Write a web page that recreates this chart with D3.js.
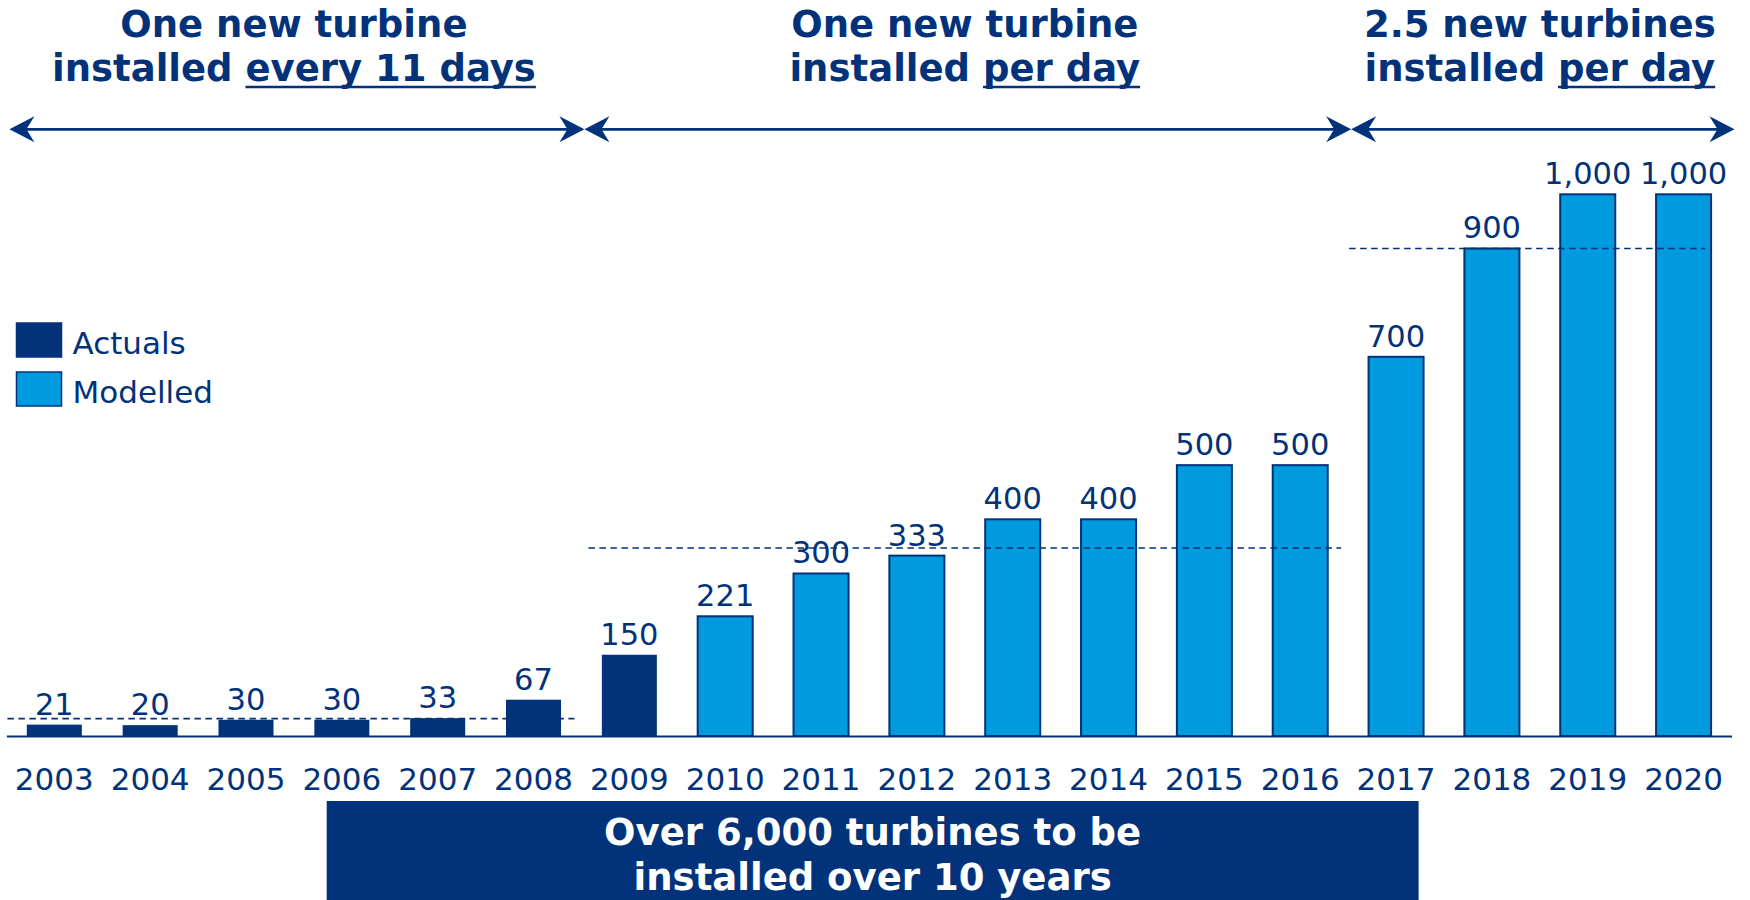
<!DOCTYPE html>
<html>
<head>
<meta charset="utf-8">
<script src="https://cdn.jsdelivr.net/npm/d3@7"></script>
<style>
  html, body { margin: 0; padding: 0; background: #ffffff; }
  svg { display: block; }
</style>
</head>
<body>
<svg id="chart" width="1750" height="900"></svg>
<script>
// ---------------- data ----------------
const years   = ["2003","2004","2005","2006","2007","2008","2009","2010","2011","2012","2013","2014","2015","2016","2017","2018","2019","2020"];
const values  = [21, 20, 30, 30, 33, 67, 150, 221, 300, 333, 400, 400, 500, 500, 700, 900, 1000, 1000];
const status  = ["Actuals","Actuals","Actuals","Actuals","Actuals","Actuals","Actuals",
                 "Modelled","Modelled","Modelled","Modelled","Modelled","Modelled","Modelled",
                 "Modelled","Modelled","Modelled","Modelled"];
const legendItems = ["Actuals", "Modelled"];

const periodStart  = ["2003", "2009", "2017"];
const periodEnd    = ["2008", "2016", "2020"];
const periodLine1  = ["One new turbine", "One new turbine", "2.5 new turbines"];
const periodLine2a = ["installed ", "installed ", "installed "];
const periodLine2b = ["every 11 days", "per day", "per day"];
const periodRate   = [32, 347, 900];   // dashed reference level per period

const summaryLines = ["Over 6,000 turbines to be", "installed over 10 years"];

// ---------------- styles ----------------
const NAVY = "#02327a";
const BLUE = "#009ade";
const colour = d3.scaleOrdinal().domain(legendItems).range([NAVY, BLUE]);

const svg = d3.select("#chart");

// ---------------- scales ----------------
const x = d3.scaleBand().domain(years).range([6.4, 1731.5]).paddingInner(0.426).paddingOuter(0.213);
const y = d3.scaleLinear().domain([0, 1000]).range([736, 194.3]);

// ---------------- bars ----------------
const data = years.map((yr, i) => ({ year: yr, value: values[i], status: status[i] }));

svg.append("g").selectAll("rect").data(data).join("rect")
  .attr("x", d => x(d.year))
  .attr("y", d => y(d.value))
  .attr("width", x.bandwidth())
  .attr("height", d => y(0) - y(d.value))
  .attr("fill", d => colour(d.status))
  .attr("stroke", NAVY)
  .attr("stroke-width", d => d.status === "Modelled" ? 2 : 0);

// value labels
const fmt = d3.format(",");
svg.append("g").selectAll("text").data(data).join("text")
  .attr("x", d => x(d.year) + x.bandwidth() / 2)
  .attr("y", d => y(d.value) - 10)
  .attr("text-anchor", "middle")
  .attr("font-family", "DejaVu Sans")
  .attr("font-size", 30.5)
  .attr("fill", NAVY)
  .text(d => fmt(d.value));

// ---------------- axis ----------------
const axis = svg.append("g")
  .attr("transform", `translate(0,${y(0)})`)
  .call(d3.axisBottom(x).tickSize(0).tickSizeOuter(0));
axis.select(".domain").attr("stroke", NAVY).attr("stroke-width", 2);
axis.selectAll(".tick text")
  .attr("y", 54).attr("dy", 0)
  .attr("font-family", "DejaVu Sans")
  .attr("font-size", 31)
  .attr("fill", NAVY);

// ---------------- periods: dashed levels, arrows, headings ----------------
const lastBarRight = x(years[years.length - 1]) + x.bandwidth();
const periods = periodStart.map((s, i) => ({
  x0: x(s) - x.step() * x.paddingInner() / 2,
  x1: x(periodEnd[i]) + x.bandwidth() + x.step() * x.paddingInner() / 2,
  l1: periodLine1[i], l2a: periodLine2a[i], l2b: periodLine2b[i], rate: periodRate[i]
}));

const gp = svg.append("g");
// dashed reference levels
gp.selectAll("line.level").data(periods).join("line")
  .attr("class", "level")
  .attr("x1", (d, i) => d.x0 + (i === 1 ? 7 : 1))
  .attr("x2", d => Math.min(d.x1 - 7, lastBarRight - 6))
  .attr("y1", d => y(d.rate))
  .attr("y2", d => y(d.rate))
  .attr("stroke", NAVY)
  .attr("stroke-width", 1.6)
  .attr("stroke-dasharray", "6.5,4.5");

// arrows
const arrowY = 129.3;
gp.selectAll("line.arrow").data(periods).join("line")
  .attr("class", "arrow")
  .attr("x1", d => d.x0 + 8).attr("x2", d => d.x1 - 8)
  .attr("y1", arrowY).attr("y2", arrowY)
  .attr("stroke", NAVY).attr("stroke-width", 2.8);

function head(tipX, dir) {
  // dir = +1 points right, -1 points left
  const L = 25, H = 13, N = 17;
  return `M${tipX},${arrowY} L${tipX - dir * L},${arrowY - H} L${tipX - dir * N},${arrowY} L${tipX - dir * L},${arrowY + H} Z`;
}
gp.selectAll("path.hl").data(periods).join("path")
  .attr("class", "hl").attr("d", d => head(d.x0 + 3, -1)).attr("fill", NAVY);
gp.selectAll("path.hr").data(periods).join("path")
  .attr("class", "hr").attr("d", d => head(d.x1 + 3, 1)).attr("fill", NAVY);

// headings
periods.forEach(p => {
  const cx = (p.x0 + p.x1) / 2;
  gp.append("text")
    .attr("x", cx).attr("y", 36.5)
    .attr("text-anchor", "middle")
    .attr("font-family", "DejaVu Sans").attr("font-weight", "bold")
    .attr("font-size", 37).attr("fill", NAVY)
    .text(p.l1);
  const t2 = gp.append("text")
    .attr("x", cx).attr("y", 80.5)
    .attr("text-anchor", "middle")
    .attr("font-family", "DejaVu Sans").attr("font-weight", "bold")
    .attr("font-size", 37).attr("fill", NAVY);
  t2.append("tspan").text(p.l2a);
  t2.append("tspan").text(p.l2b);
  const node = t2.node();
  const n1 = p.l2a.length, n2 = p.l2b.length;
  const ux0 = node.getStartPositionOfChar(n1).x;
  const ux1 = node.getEndPositionOfChar(n1 + n2 - 1).x;
  gp.append("line")
    .attr("x1", ux0).attr("x2", ux1)
    .attr("y1", 87).attr("y2", 87)
    .attr("stroke", NAVY).attr("stroke-width", 2.6);
});

// ---------------- legend ----------------
const lg = svg.append("g");
legendItems.forEach((name, i) => {
  const top = 323 + i * 49;
  lg.append("rect")
    .attr("x", 16.5).attr("y", top)
    .attr("width", 45).attr("height", 34)
    .attr("fill", colour(name))
    .attr("stroke", NAVY).attr("stroke-width", 1.5);
  lg.append("text")
    .attr("x", 72.5).attr("y", top + 30.5)
    .attr("font-family", "DejaVu Sans")
    .attr("font-size", 31).attr("fill", NAVY)
    .text(name);
});

// ---------------- summary box ----------------
svg.append("rect")
  .attr("x", 326.7).attr("y", 801)
  .attr("width", 1418.6 - 326.7).attr("height", 110)
  .attr("fill", NAVY);
svg.append("g").selectAll("text").data(summaryLines).join("text")
  .attr("x", (326.7 + 1418.6) / 2)
  .attr("y", (d, i) => 845 + i * 44.5)
  .attr("text-anchor", "middle")
  .attr("font-family", "DejaVu Sans").attr("font-weight", "bold")
  .attr("font-size", 37).attr("fill", "#ffffff")
  .text(d => d);
</script>
</body>
</html>
